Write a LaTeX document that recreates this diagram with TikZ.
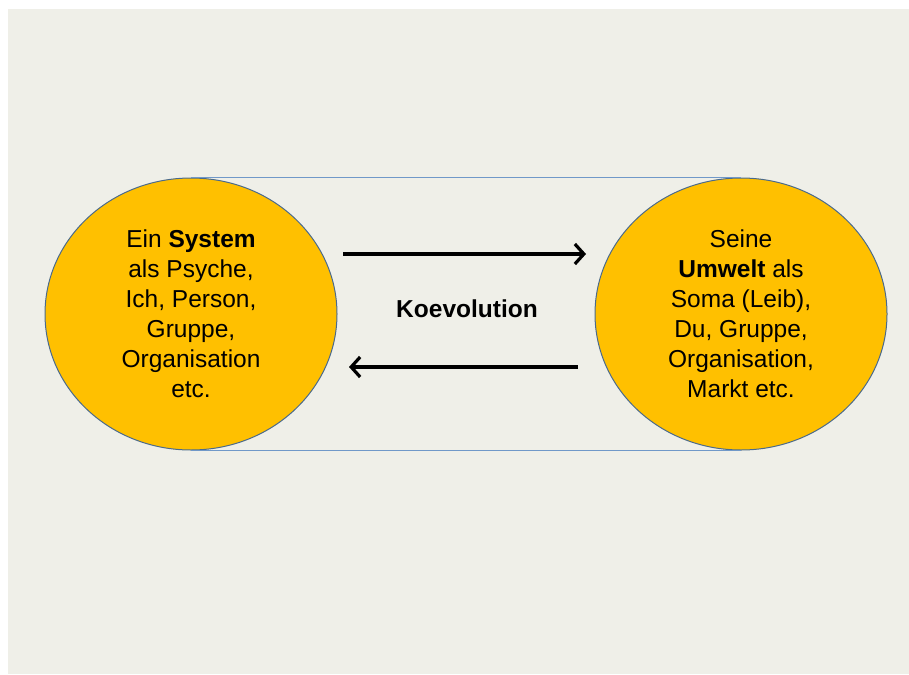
\documentclass[tikz,border=0pt]{standalone}
\usepackage{fontspec}
\setmainfont{Liberation Sans}
\usetikzlibrary{arrows.meta,shapes.geometric}
\definecolor{Paper}{HTML}{EFEFE8}
\definecolor{Amber}{HTML}{FFC000}
\definecolor{Rim}{HTML}{4A6A8C}
\definecolor{Band}{HTML}{7098C8}
\newcommand{\BlobFont}{\fontsize{24.5}{30}\selectfont}

\begin{document}
\begin{tikzpicture}[x=1pt,y=-1pt,
  blob/.style={ellipse,draw=Rim,line width=1pt,fill=Amber,minimum width=292pt,
    minimum height=272pt,inner sep=0pt,align=center,font=\BlobFont},
  flow/.style={line width=3.2pt,-{Straight Barb[length=9pt,width=20pt,line width=3.2pt]}}]
\useasboundingbox (0,0) rectangle (909,674);
\fill[white] (0,0) rectangle (909,674);
\fill[Paper] (8,9) rectangle (909,674);
% two partners
\node[blob] (sys) at (191,314) {Ein \textbf{System}\\als Psyche,\\Ich, Person,\\Gruppe,\\Organisation\\etc.};
\node[blob] (umw) at (741,314) {Seine\\\textbf{Umwelt} als\\Soma (Leib),\\Du, Gruppe,\\Organisation,\\Markt etc.};
\draw[Band,line width=1.2pt] (sys.north) -- (umw.north);
\draw[Band,line width=1.2pt] (sys.south) -- (umw.south);
\node[font=\BlobFont\bfseries] (koev) at (467,309) {Koevolution};
\coordinate (hinA) at (343,254);
\coordinate (hinB) at (586,254);
\coordinate (rueckA) at (578,367);
\coordinate (rueckB) at (349,367);
\draw[flow] (hinA) -- (hinB);
\draw[flow] (rueckA) -- (rueckB);
\end{tikzpicture}
\end{document}
